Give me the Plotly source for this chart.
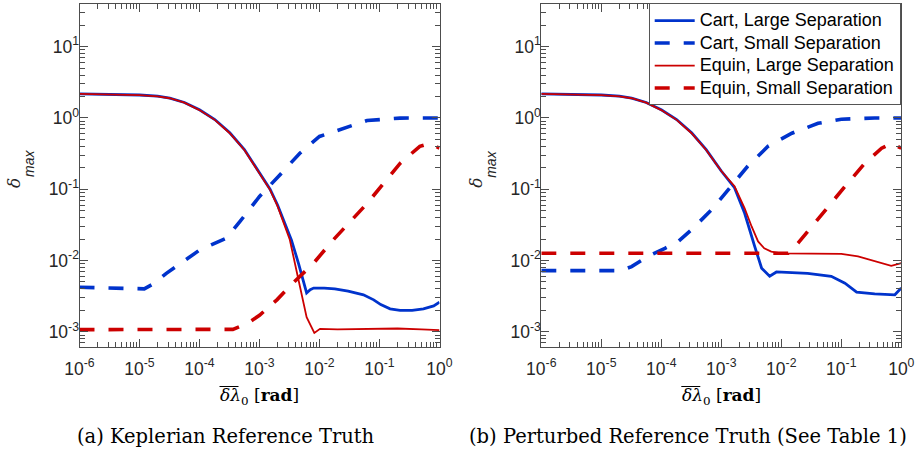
import plotly.graph_objects as go

W, H = 918, 451

# ---------------- data ----------------
# (a) Keplerian reference truth
a_cart_large_x = [1e-6, 3e-6, 1e-5, 2e-5, 3.2e-5, 5.6e-5, 1e-4, 1.8e-4, 3.2e-4, 5.6e-4, 1e-3, 1.5e-3,
                  2e-3, 2.6e-3, 3.4e-3, 4.5e-3, 6.1e-3, 7e-3, 8e-3, 1.2e-2, 1.8e-2, 3e-2, 5.4e-2,
                  8e-2, 1.05e-1, 1.5e-1, 2.2e-1, 3.5e-1, 5.4e-1, 8e-1, 1.0]
a_cart_large_y = [2.18, 2.16, 2.1, 2.02, 1.9, 1.65, 1.3, 0.95, 0.62, 0.36, 0.17, 0.1,
                  0.06, 0.034, 0.0194, 0.0089, 0.0035, 0.0039, 0.0041, 0.0041, 0.004, 0.0037, 0.0033,
                  0.0028, 0.0024, 0.0021, 0.0020, 0.0020, 0.0021, 0.0023, 0.0026]

a_cart_small_x = [1e-6, 5e-6, 1.2e-5, 1.7e-5, 2.8e-5, 4.5e-5, 6.9e-5, 1e-4, 1.6e-4, 2.8e-4, 4.7e-4,
                  1e-3, 2.2e-3, 4.7e-3, 1e-2, 2.5e-2, 6.2e-2, 2.2e-1, 5e-1, 1.0]
a_cart_small_y = [0.0042, 0.0041, 0.0040, 0.0047, 0.0066, 0.0087, 0.0114, 0.014, 0.0167, 0.0205, 0.035,
                  0.079, 0.16, 0.32, 0.55, 0.72, 0.92, 0.995, 1.0, 1.0]

a_equin_large_x = [1e-6, 3e-6, 1e-5, 2e-5, 3.2e-5, 5.6e-5, 1e-4, 1.8e-4, 3.2e-4, 5.6e-4, 1e-3, 1.5e-3,
                   2e-3, 2.6e-3, 3.2e-3, 4.5e-3, 5.4e-3, 6.1e-3, 8.2e-3, 1.02e-2, 2e-2, 5e-2,
                   1e-1, 2e-1, 5e-1, 1.0]
a_equin_large_y = [2.17, 2.15, 2.09, 2.01, 1.89, 1.64, 1.29, 0.94, 0.61, 0.355, 0.168, 0.098,
                   0.058, 0.032, 0.0195, 0.0052, 0.0025, 0.0016, 0.00096, 0.0011, 0.00108, 0.00109,
                   0.0011, 0.00111, 0.00108, 0.00105]

a_equin_small_x = [1e-6, 1e-5, 1e-4, 3.6e-4, 6.2e-4, 1e-3, 1.95e-3, 3.6e-3, 7.9e-3, 1.7e-2, 6.2e-2,
                   2.2e-1, 4.7e-1, 6.9e-1, 1.0]
a_equin_small_y = [0.00107, 0.00107, 0.00107, 0.00108, 0.0013, 0.0017, 0.0028, 0.0048, 0.0091, 0.0195,
                   0.063, 0.23, 0.40, 0.44, 0.376]

# (b) Perturbed reference truth
b_cart_large_x = [1e-6, 3e-6, 1e-5, 2e-5, 3.2e-5, 5.6e-5, 1e-4, 1.8e-4, 3.2e-4, 5.6e-4, 1e-3, 1.66e-3,
                  2.45e-3, 3.6e-3, 4.7e-3, 6.4e-3, 8.3e-3, 2.75e-2, 6.8e-2, 1.15e-1, 1.8e-1, 3.6e-1,
                  7.8e-1, 1.0]
b_cart_large_y = [2.18, 2.16, 2.1, 2.02, 1.9, 1.65, 1.3, 0.95, 0.62, 0.36, 0.18, 0.105,
                  0.046, 0.0158, 0.0078, 0.006, 0.0069, 0.0066, 0.006, 0.0048, 0.0036, 0.0034,
                  0.0033, 0.0041]

b_cart_small_x = [1e-6, 1e-5, 2.1e-5, 3.2e-5, 6e-5, 1.15e-4, 1.9e-4, 3.2e-4, 6.8e-4, 1.3e-3, 2.75e-3,
                  6e-3, 1.5e-2, 4.1e-2, 1e-1, 3.6e-1, 1.0]
b_cart_small_y = [0.0072, 0.0072, 0.0072, 0.0082, 0.0114, 0.0148, 0.0184, 0.027, 0.051, 0.098, 0.21,
                  0.40, 0.61, 0.84, 0.96, 1.0, 1.0]

b_equin_large_x = [1e-6, 3e-6, 1e-5, 2e-5, 3.2e-5, 5.6e-5, 1e-4, 1.8e-4, 3.2e-4, 5.6e-4, 1e-3, 1.66e-3,
                   2.45e-3, 3.2e-3, 4.1e-3, 5.2e-3, 6.8e-3, 1e-2, 1e-1, 1.9e-1, 3.6e-1, 6.8e-1, 1.0]
b_equin_large_y = [2.17, 2.15, 2.09, 2.01, 1.89, 1.64, 1.29, 0.94, 0.61, 0.355, 0.18, 0.11,
                   0.054, 0.030, 0.0185, 0.0148, 0.0133, 0.0126, 0.0124, 0.0114, 0.0097, 0.0084, 0.0092]

b_equin_small_x = [1e-6, 1e-4, 1e-3, 1.3e-2, 1.9e-2, 3.2e-2, 6e-2, 1.15e-1, 2.45e-1, 4.7e-1, 6.8e-1, 1.0]
b_equin_small_y = [0.0126, 0.0126, 0.0126, 0.0126, 0.0175, 0.030, 0.057, 0.109, 0.23, 0.376, 0.44, 0.376]

series_names = ["Cart, Large Separation", "Cart, Small Separation",
                "Equin, Large Separation", "Equin, Small Separation"]
x_tick_vals = [1e-6, 1e-5, 1e-4, 1e-3, 1e-2, 1e-1, 1e0]
x_tick_text = ["10<sup>-6</sup>", "10<sup>-5</sup>", "10<sup>-4</sup>", "10<sup>-3</sup>",
               "10<sup>-2</sup>", "10<sup>-1</sup>", "10<sup>0</sup>"]
y_tick_vals = [1e-3, 1e-2, 1e-1, 1e0, 1e1]
y_tick_text = ["10<sup>-3</sup>", "10<sup>-2</sup>", "10<sup>-1</sup>", "10<sup>0</sup>", "10<sup>1</sup>"]
captions = ["(a) Keplerian Reference Truth", "(b) Perturbed Reference Truth (See Table 1)"]

# ---------------- styling ----------------
BLUE = "#0033cc"
RED = "#cc0000"
styles = [
    dict(color=BLUE, width=2.8, dash="solid"),
    dict(color=BLUE, width=3.6, dash="15px,14px"),
    dict(color=RED, width=1.8, dash="solid"),
    dict(color=RED, width=3.6, dash="15px,14px"),
]

fig = go.Figure()
panel_a = [(a_cart_large_x, a_cart_large_y), (a_cart_small_x, a_cart_small_y),
           (a_equin_large_x, a_equin_large_y), (a_equin_small_x, a_equin_small_y)]
panel_b = [(b_cart_large_x, b_cart_large_y), (b_cart_small_x, b_cart_small_y),
           (b_equin_large_x, b_equin_large_y), (b_equin_small_x, b_equin_small_y)]

for i, (xs, ys) in enumerate(panel_a):
    fig.add_trace(go.Scatter(x=xs, y=ys, mode="lines", name=series_names[i], line=styles[i],
                             xaxis="x", yaxis="y", showlegend=False))
for i, (xs, ys) in enumerate(panel_b):
    fig.add_trace(go.Scatter(x=xs, y=ys, mode="lines",
                             name='<span style="font-size:18px">' + series_names[i] + "</span>",
                             line=styles[i], xaxis="x2", yaxis="y2", showlegend=True))

AX = "#4d4d4d"
TXT = "#262626"
SANS = "Liberation Sans, Arial, sans-serif"
TICKFONT = dict(family=SANS, size=17.5, color=TXT)
minor_x = [m * 10.0 ** e for e in range(-6, 0) for m in range(2, 10)]
minor_y = [m * 10.0 ** e for e in range(-4, 2) for m in range(2, 10)]

def xaxis(domain, anchor):
    return dict(type="log", domain=domain, anchor=anchor, range=[-6, 0],
                tickmode="array", tickvals=x_tick_vals, ticktext=x_tick_text,
                ticks="inside", ticklen=8, tickwidth=1, tickcolor=AX,
                minor=dict(tickmode="array", tickvals=minor_x, ticks="inside", ticklen=5,
                           tickwidth=1, tickcolor=AX, showgrid=False),
                showline=True, linecolor=AX, linewidth=1, mirror="allticks",
                showgrid=False, zeroline=False, tickfont=TICKFONT, automargin=False,
                ticklabelstandoff=6)

def yaxis(anchor):
    return dict(type="log", domain=[1 - 346.7 / H, 1 - 3.5 / H], anchor=anchor, range=[-3.21, 1.606],
                tickmode="array", tickvals=y_tick_vals, ticktext=y_tick_text,
                ticks="inside", ticklen=8, tickwidth=1, tickcolor=AX,
                minor=dict(tickmode="array", tickvals=minor_y, ticks="inside", ticklen=5,
                           tickwidth=1, tickcolor=AX, showgrid=False),
                showline=True, linecolor=AX, linewidth=1, mirror="allticks",
                showgrid=False, zeroline=False, tickfont=TICKFONT, automargin=False,
                ticklabelstandoff=-4)

fig.update_layout(
    width=W, height=H,
    margin=dict(l=0, r=0, t=0, b=0),
    paper_bgcolor="white", plot_bgcolor="white",
    xaxis=xaxis([79.5 / W, 439.5 / W], "y"),
    yaxis=yaxis("x"),
    xaxis2=xaxis([541.3 / W, 901.3 / W], "y2"),
    yaxis2=yaxis("x2"),
    legend=dict(x=900.7 / W, xanchor="right", y=1 - 3.3 / H, yanchor="top",
                bgcolor="white", bordercolor="#555555", borderwidth=1,
                font=dict(family=SANS, size=15, color="black"),
                itemwidth=40, tracegroupgap=0),
    showlegend=True,
)

SERIF = "DejaVu Serif, Liberation Serif, serif"
annotations = []
shapes = []
for cx in [259.5, 721.3]:
    # x-axis title
    annotations.append(dict(x=cx / W, y=1 - 396 / H, xref="paper", yref="paper",
                            text="<i>δλ</i><sub>0</sub> [<b>rad</b>]", showarrow=False,
                            font=dict(family=SERIF, size=17, color="black"),
                            xanchor="center", yanchor="middle"))
    shapes.append(dict(type="line", xref="paper", yref="paper",
                       x0=(cx - 40) / W, x1=(cx - 21) / W, y0=1 - 386.5 / H, y1=1 - 386.5 / H,
                       line=dict(color="black", width=1)))
    # y-axis title: delta with a subscript "max"
    annotations.append(dict(x=(cx - 245.5) / W, y=1 - 183 / H, xref="paper", yref="paper",
                            text="<i>δ</i>", showarrow=False, textangle=-90,
                            font=dict(family=SERIF, size=17, color=TXT),
                            xanchor="center", yanchor="middle"))
    annotations.append(dict(x=(cx - 230.5) / W, y=1 - 164 / H, xref="paper", yref="paper",
                            text="<i>max</i>", showarrow=False, textangle=-90,
                            font=dict(family=SANS, size=14, color=TXT),
                            xanchor="center", yanchor="middle"))
for cap, cap_x in zip(captions, [226, 688]):
    annotations.append(dict(x=cap_x / W, y=1 - 436 / H, xref="paper", yref="paper",
                            text=cap, showarrow=False,
                            font=dict(family=SERIF, size=19.5, color="black"),
                            xanchor="center", yanchor="middle"))

fig.update_layout(annotations=annotations, shapes=shapes)
fig.write_html("out.html", config={"displayModeBar": False},
               post_script="document.body.style.margin='0px';document.body.style.overflow='hidden';")
